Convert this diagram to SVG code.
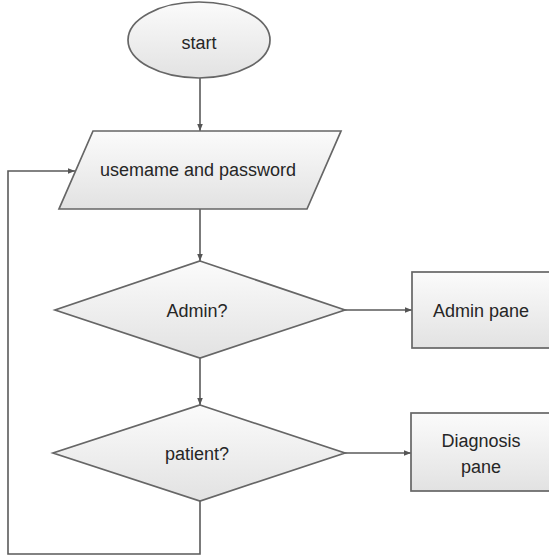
<svg xmlns="http://www.w3.org/2000/svg" width="549" height="558" viewBox="0 0 549 558">
<defs>
<linearGradient id="g" x1="0" y1="0" x2="0" y2="1">
<stop offset="0" stop-color="#fbfbfb"/>
<stop offset="1" stop-color="#e2e2e2"/>
</linearGradient>
<marker id="arr" viewBox="0 0 10 10" refX="10" refY="5" markerWidth="7" markerHeight="7" markerUnits="userSpaceOnUse" orient="auto">
<path d="M0,1 L10,5 L0,9 z" fill="#555"/>
</marker>
<style>
.s{fill:url(#g);stroke:#666;stroke-width:1.7}
.t{font-family:"Liberation Sans",Arial,sans-serif;font-size:18px;fill:#262626;text-anchor:middle}
.c{fill:none;stroke:#5a5a5a;stroke-width:1.6;marker-end:url(#arr)}
</style>
</defs>
<rect width="549" height="558" fill="#fff"/>
<g id="connectors">
<path class="c" d="M200,78 L200,131"/>
<path class="c" d="M200,209 L200,261"/>
<path class="c" d="M200,358 L200,405"/>
<path class="c" d="M345,310 L412,310"/>
<path class="c" d="M345,453 L411,453"/>
<path class="c" d="M200,501 L200,554 L8,554 L8,171 L75,171"/>
</g>
<g id="start">
<ellipse class="s" cx="199" cy="40" rx="71" ry="38"/>
<text class="t" x="199" y="49">start</text>
</g>
<g id="credentials">
<polygon class="s" points="93,131 341,131 307,209 59,209"/>
<text class="t" x="198" y="176">usemame and password</text>
</g>
<g id="admin">
<polygon class="s" points="200,261 345,310 200,358 55,310"/>
<text class="t" x="197" y="317">Admin?</text>
</g>
<g id="adminpane">
<rect class="s" x="412" y="272" width="140" height="76"/>
<text class="t" x="481" y="317">Admin pane</text>
</g>
<g id="patient">
<polygon class="s" points="200,405 345,453 200,501 53,453"/>
<text class="t" x="197" y="460">patient?</text>
</g>
<g id="diagnosis">
<rect class="s" x="411" y="413" width="141" height="78"/>
<text class="t" x="481" y="447">Diagnosis</text>
<text class="t" x="481" y="473">pane</text>
</g>
</svg>
